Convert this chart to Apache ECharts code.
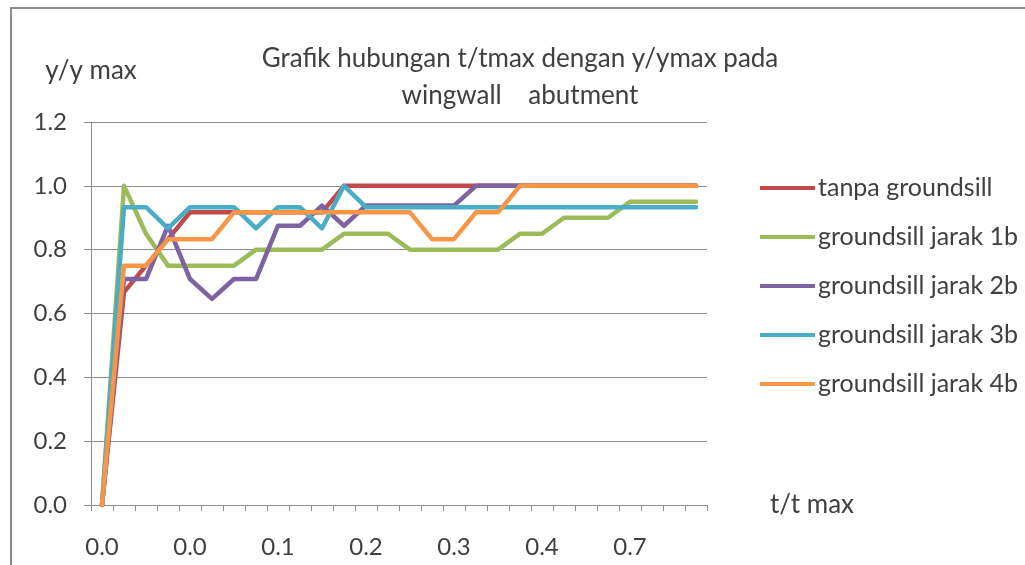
<!DOCTYPE html>
<html>
<head>
<meta charset="utf-8">
<script src="https://cdn.jsdelivr.net/npm/echarts@6/dist/echarts.min.js"></script>
<style>
  html, body { margin: 0; padding: 0; background: #fff; }
  #chart { width: 1025px; height: 565px; }
  #frame { position: absolute; left: 10px; top: 7px; width: 1030px; height: 600px;
           border-left: 2px solid #8c8c8c; border-top: 2px solid #8c8c8c; pointer-events: none; }
</style>
</head>
<body>
<div id="chart"></div>
<div id="frame"></div>
<script>
// t/tmax (kategori sumbu x)
const tLabels = ['0.0', '0.0', '0.0', '0.0', '0.0', '0.0', '0.1', '0.1', '0.1', '0.1',
                 '0.1', '0.1', '0.2', '0.2', '0.2', '0.2', '0.3', '0.3', '0.3', '0.3',
                 '0.4', '0.4', '0.5', '0.6', '0.7', '0.8', '0.9', '1.0'];

// y/ymax tiap seri
const tanpaGroundsill = [0, 0.667, 0.75, 0.833, 0.917, 0.917, 0.917, 0.917, 0.917, 0.917,
                         0.917, 1, 1, 1, 1, 1, 1, 1, 1, 1,
                         1, 1, 1, 1, 1, 1, 1, 1];
const jarak1b = [0, 1, 0.85, 0.75, 0.75, 0.75, 0.75, 0.8, 0.8, 0.8,
                 0.8, 0.85, 0.85, 0.85, 0.8, 0.8, 0.8, 0.8, 0.8, 0.85,
                 0.85, 0.9, 0.9, 0.9, 0.95, 0.95, 0.95, 0.95];
const jarak2b = [0, 0.708, 0.708, 0.875, 0.708, 0.646, 0.708, 0.708, 0.875, 0.875,
                 0.938, 0.875, 0.938, 0.938, 0.938, 0.938, 0.938, 1, 1, 1,
                 1, 1, 1, 1, 1, 1, 1, 1];
const jarak3b = [0, 0.933, 0.933, 0.867, 0.933, 0.933, 0.933, 0.867, 0.933, 0.933,
                 0.867, 1, 0.933, 0.933, 0.933, 0.933, 0.933, 0.933, 0.933, 0.933,
                 0.933, 0.933, 0.933, 0.933, 0.933, 0.933, 0.933, 0.933];
const jarak4b = [0, 0.75, 0.75, 0.833, 0.833, 0.833, 0.917, 0.917, 0.917, 0.917,
                 0.917, 0.917, 0.917, 0.917, 0.917, 0.833, 0.833, 0.917, 0.917, 1,
                 1, 1, 1, 1, 1, 1, 1, 1];

const seriesNames = ['tanpa groundsill', 'groundsill jarak 1b', 'groundsill jarak 2b',
                     'groundsill jarak 3b', 'groundsill jarak 4b'];
const seriesData = [tanpaGroundsill, jarak1b, jarak2b, jarak3b, jarak4b];
const colors = ['#BE4B48', '#9BBB59', '#7F62A1', '#4BACC6', '#F79646'];

const font = 'Lato, "Open Sans", sans-serif';
const textColor = '#404040';

const chart = echarts.init(document.getElementById('chart'));

chart.setOption({
  animation: false,
  color: colors,
  textStyle: { fontFamily: font },
  title: {
    text: 'Grafik hubungan t/tmax dengan y/ymax pada\nwingwall    abutment',
    left: 515,
    textAlign: 'center',
    top: 35,
    textStyle: { fontSize: 26, fontWeight: 'normal', color: textColor, lineHeight: 37, fontFamily: font }
  },
  legend: {
    orient: 'vertical',
    left: 755,
    top: 168,
    itemWidth: 55,
    itemHeight: 4,
    itemGap: 19,
    icon: 'rect',
    textStyle: { fontSize: 25, lineHeight: 30, color: textColor, fontFamily: font, padding: [0, 0, 0, -2] },
    data: seriesNames
  },
  grid: { left: 91, right: 318, top: 122, bottom: 60 },
  xAxis: {
    type: 'category',
    data: tLabels,
    boundaryGap: true,
    name: 't/t max',
    nameLocation: 'end',
    nameGap: 63,
    nameTextStyle: { fontSize: 26, color: textColor, fontFamily: font },
    axisLine: { lineStyle: { color: '#8c8c8c', width: 1 } },
    axisTick: { show: true, interval: 0, length: 6, lineStyle: { color: '#8c8c8c' } },
    axisLabel: { interval: 3, fontSize: 24, color: textColor, margin: 30, fontFamily: font },
    splitLine: { show: false }
  },
  yAxis: {
    type: 'value',
    min: 0,
    max: 1.2,
    interval: 0.2,
    name: 'y/y max',
    nameLocation: 'end',
    nameGap: 38,
    nameTextStyle: { fontSize: 26, color: textColor, fontFamily: font, align: 'center' },
    axisLine: { show: true, lineStyle: { color: '#8c8c8c', width: 1 } },
    axisTick: { show: true, length: 7, lineStyle: { color: '#8c8c8c' } },
    axisLabel: { fontSize: 24, color: textColor, margin: 24, fontFamily: font,
                 formatter: v => v.toFixed(1) },
    splitLine: { lineStyle: { color: '#8c8c8c', width: 1 } }
  },
  series: seriesNames.map((name, i) => ({
    name: name,
    type: 'line',
    data: seriesData[i],
    showSymbol: false,
    symbol: 'none',
    lineStyle: { width: 4.5, cap: 'round', join: 'round' }
  }))
});
</script>
</body>
</html>
